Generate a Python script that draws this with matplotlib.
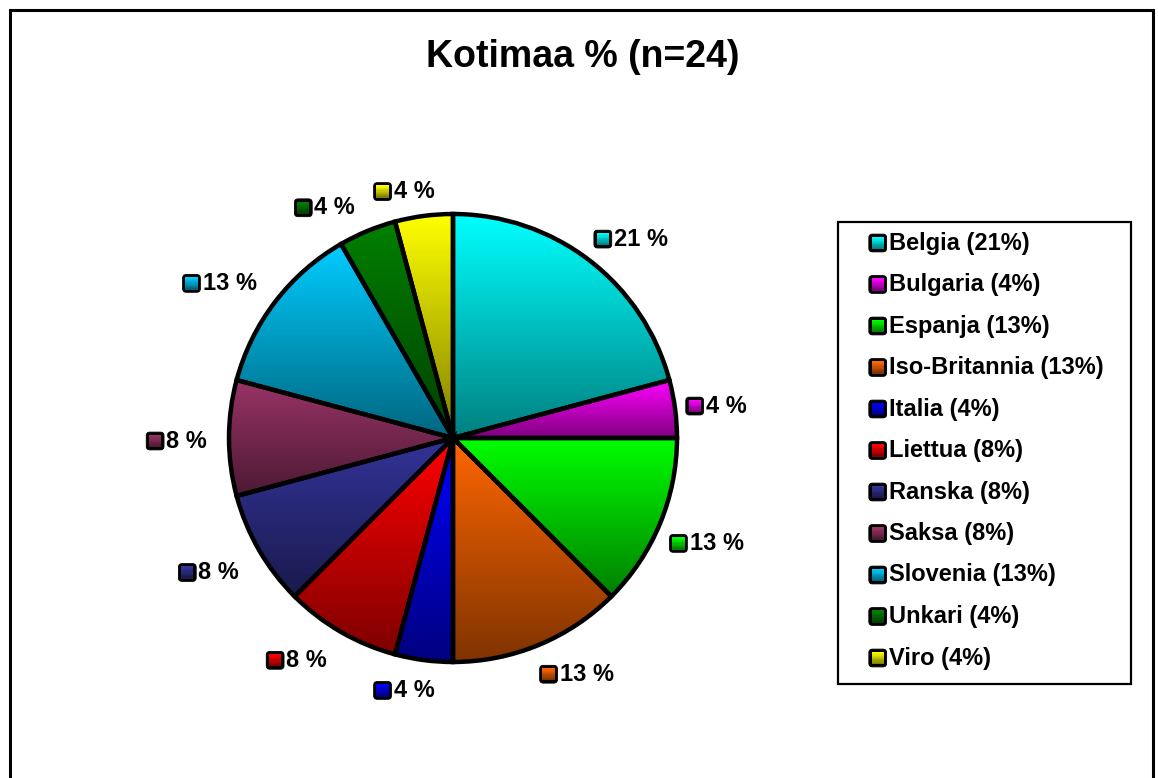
"""
Kotimaa pie chart -- gradient-filled slices, outside labels, boxed legend.
"""
import numpy as np
import matplotlib
matplotlib.use("Agg")
import matplotlib.pyplot as plt
from matplotlib.patches import Rectangle, FancyBboxPatch
from matplotlib.offsetbox import DrawingArea, TextArea, HPacker, AnnotationBbox

# ---------------------------------------------------------------
# data
# ---------------------------------------------------------------
countries = ["Belgia", "Bulgaria", "Espanja", "Iso-Britannia", "Italia", "Liettua",
             "Ranska", "Saksa", "Slovenia", "Unkari", "Viro"]
counts = [5, 1, 3, 3, 1, 2, 2, 2, 3, 1, 1]
colors = ["#00FFFF", "#FF00FF", "#00FF00", "#FF6600", "#0000FF", "#FF0000",
          "#333399", "#993366", "#00CCFF", "#008000", "#FFFF00"]
title = "Kotimaa % (n=24)"

total = sum(counts)
pcts = [int(np.floor(100 * c / total + 0.5)) for c in counts]

W, H = 1158, 778
FONT = "Liberation Sans"

fig = plt.figure(figsize=(W / 100, H / 100), dpi=100)
ax = fig.add_axes([0, 0, 1, 1])

# pie in pixel-like data coords (y measured from bottom)
cx, cy, r = 453, H - 438, 224
wedges, _ = ax.pie(counts, startangle=90, counterclock=False, center=(cx, cy),
                   radius=r, wedgeprops=dict(edgecolor="black", linewidth=3.2))


def shade(col, n=32):
    c = np.array(matplotlib.colors.to_rgb(col))
    t = np.linspace(0.5, 1.0, n)[:, None]
    return t * c  # row 0 = dark (bottom), last = full colour (top)


for w, col in zip(wedges, colors):
    verts = w.get_patch_transform().transform(w.get_path().vertices)
    x0, y0 = verts.min(axis=0)
    x1, y1 = verts.max(axis=0)
    grad = shade(col, 64)[:, None, :]
    im = ax.imshow(grad, extent=[x0, x1, y0, y1], origin="lower", aspect="auto",
                   interpolation="bilinear", zorder=1)
    im.set_clip_path(w)
    w.set_facecolor("none")
    w.set_zorder(2)


def marker(col, size=14.0):
    da = DrawingArea(size, size, 0, 0)
    da.add_artist(FancyBboxPatch((0.6, 0.6), size - 1.2, size - 1.2,
                                 boxstyle="round,pad=0,rounding_size=2.6",
                                 fc="black", ec="black", lw=0.6))
    b = 2.6
    inner = size - 2 * b
    strips = shade(col, 10)
    h = inner / len(strips)
    for k, c in enumerate(strips):
        da.add_artist(Rectangle((b, b + k * h), inner, h + 0.05, fc=c, ec="none", lw=0))
    return da


def label_box(col, text, fs=17):
    ta = TextArea(text, textprops=dict(fontsize=fs, fontweight="bold", family=FONT))
    return HPacker(children=[marker(col), ta], align="center", pad=0, sep=1.0)


# outside data labels: anchored on the slice's mid ray, box pushed away from the pie
theta = 90.0
R = r + 16
dx, dy = -6, -3
for c, p, col in zip(counts, pcts, colors):
    span = 360.0 * c / total
    mid = np.deg2rad(theta - span / 2)
    theta -= span
    ux, uy = np.cos(mid), np.sin(mid)
    xa = np.clip(0.5 - 1.5 * ux, 0, 1)
    ya = np.clip(0.5 - 1.2 * uy, 0, 1)
    ab = AnnotationBbox(label_box(col, f"{p} %"), (cx + R * ux + dx, cy + R * uy + dy),
                        xycoords="data", frameon=False, box_alignment=(xa, ya), pad=0)
    ab.set_zorder(5)
    ax.add_artist(ab)

# legend
lx0, ly0, lx1, ly1 = 838, 222, 1131, 684
ax.add_patch(Rectangle((lx0, H - ly1), lx1 - lx0, ly1 - ly0, fill=False,
                       ec="black", lw=1.6, zorder=3))
for i, (name, p, col) in enumerate(zip(countries, pcts, colors)):
    ab = AnnotationBbox(label_box(col, f"{name} ({p}%)"), (868, H - (243 + i * 41.5)),
                        xycoords="data", frameon=False, box_alignment=(0, 0.5), pad=0)
    ab.set_zorder(5)
    ax.add_artist(ab)

# title and outer frame
ax.text(583, H - 57, title, ha="center", va="center", fontsize=27,
        fontweight="bold", family=FONT)
ax.add_patch(Rectangle((9.5, -10), 1143, H - 10 + 10, fill=False, ec="black",
                       lw=2.2, zorder=6, clip_on=False))

ax.set_xlim(0, W)
ax.set_ylim(0, H)
ax.set_aspect("auto")
ax.axis("off")

plt.savefig("out.png", dpi=100)
plt.close()
